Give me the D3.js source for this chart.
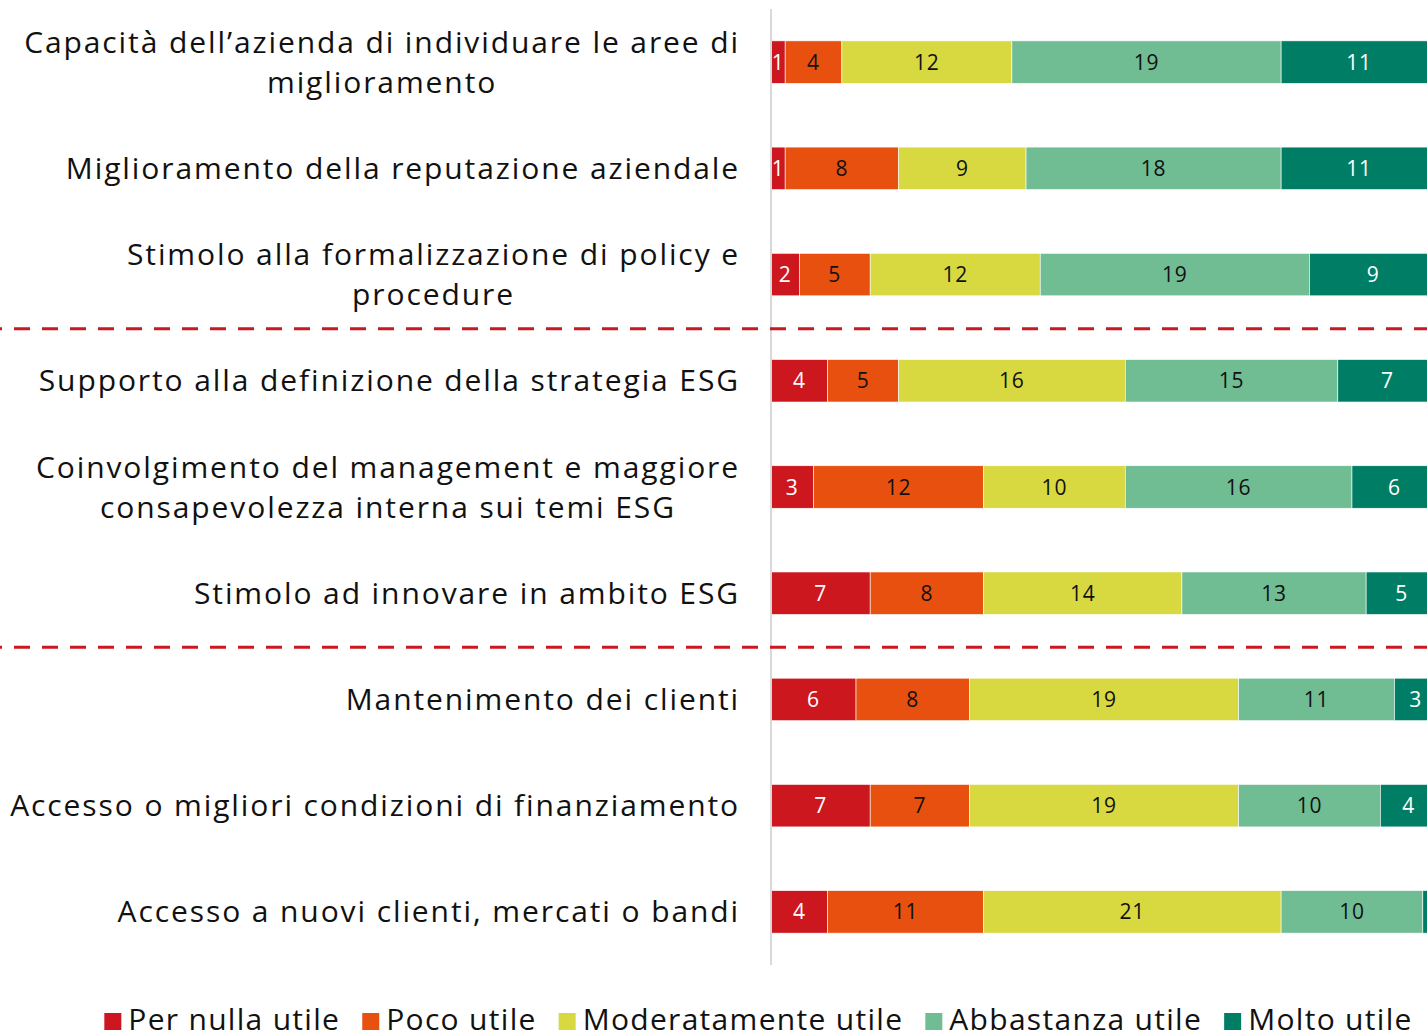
<!DOCTYPE html>
<html>
<head>
<meta charset="utf-8">
<script src="https://cdn.jsdelivr.net/npm/d3@7"></script>
<style>
  body { margin: 0; background: #fff; }
  svg { display: block; }
</style>
</head>
<body>
<div id="chart"></div>
<script>
// categories (top to bottom), lines already split as in the original
const categories = [
  ["Capacità dell’azienda di individuare le aree di", "miglioramento"],
  ["Miglioramento della reputazione aziendale"],
  ["Stimolo alla formalizzazione di policy e", "procedure"],
  ["Supporto alla definizione della strategia ESG"],
  ["Coinvolgimento del management e maggiore", "consapevolezza interna sui temi ESG"],
  ["Stimolo ad innovare in ambito ESG"],
  ["Mantenimento dei clienti"],
  ["Accesso o migliori condizioni di finanziamento"],
  ["Accesso a nuovi clienti, mercati o bandi"]
];

const seriesNames = ["Per nulla utile", "Poco utile", "Moderatamente utile", "Abbastanza utile", "Molto utile"];

const perNulla     = [1, 1, 2, 4, 3, 7, 6, 7, 4];
const poco         = [4, 8, 5, 5, 12, 8, 8, 7, 11];
const moderatamente = [12, 9, 12, 16, 10, 14, 19, 19, 21];
const abbastanza   = [19, 18, 19, 15, 16, 13, 11, 10, 10];
const molto        = [11, 11, 9, 7, 6, 5, 3, 4, 1];

// dashed separators come after these row indexes
const groupBreaks = [2, 5];

const colors = ["#cc171f", "#e8500f", "#d8d940", "#70bc93", "#007e65"];
const labelColors = ["#fff", "#111", "#111", "#111", "#fff"];
const fontFamily = "'Open Sans', 'Lato', sans-serif";

const W = 1427, H = 1033;
const x0 = 771;

const svg = d3.select("#chart").append("svg")
  .attr("width", W)
  .attr("height", H);

const rows = categories.map((c, i) => ({
  idx: i,
  lines: c,
  values: [perNulla[i], poco[i], moderatamente[i], abbastanza[i], molto[i]]
}));

const total = d3.max(rows, r => d3.sum(r.values));

// the original chart runs past the right edge of the picture
const x = d3.scaleLinear()
  .domain([0, total])
  .range([x0, x0 + total * 14.17]);

const y = d3.scaleBand()
  .domain(rows.map(r => r.idx))
  .range([9, 965])
  .paddingInner(0.6)
  .paddingOuter(0.3);

// stack
const stackData = rows.map(r => {
  const o = { idx: r.idx };
  seriesNames.forEach((s, k) => o[s] = r.values[k]);
  return o;
});
const stacked = d3.stack().keys(seriesNames)(stackData);

const g = svg.append("g");

const layer = g.selectAll(".layer")
  .data(stacked)
  .enter().append("g")
  .attr("class", "layer");

layer.selectAll("rect")
  .data((d, k) => d.map(p => ({ p: p, k: k })))
  .enter().append("rect")
  .attr("x", d => x(d.p[0]))
  .attr("y", d => y(d.p.data.idx))
  .attr("width", d => x(d.p[1]) - x(d.p[0]))
  .attr("height", y.bandwidth())
  .attr("fill", d => colors[d.k])
  .attr("stroke", "#fff")
  .attr("stroke-width", 0.6);

layer.selectAll("text")
  .data((d, k) => d.map(p => ({ p: p, k: k })).filter(d => d.p[1] - d.p[0] > 0 && x((d.p[0] + d.p[1]) / 2) < W - 4))
  .enter().append("text")
  .attr("x", d => x((d.p[0] + d.p[1]) / 2))
  .attr("y", d => y(d.p.data.idx) + y.bandwidth() / 2)
  .attr("dy", "0.36em")
  .attr("text-anchor", "middle")
  .attr("font-family", fontFamily)
  .attr("font-size", 21)
  .attr("letter-spacing", 0.8)
  .attr("fill", d => labelColors[d.k])
  .text(d => d.p[1] - d.p[0]);

// vertical axis line
svg.append("line")
  .attr("x1", x(0)).attr("x2", x(0))
  .attr("y1", 9).attr("y2", 965)
  .attr("stroke", "#d9d9d9")
  .attr("stroke-width", 2);

// dashed separators
groupBreaks.forEach(b => {
  const yy = (y(b) + y.bandwidth() + y(b + 1)) / 2 + 1;
  svg.append("line")
    .attr("x1", 0).attr("x2", W)
    .attr("y1", yy).attr("y2", yy)
    .attr("stroke", "#cc171f")
    .attr("stroke-width", 3)
    .attr("stroke-dasharray", "16,12")
    .attr("stroke-dashoffset", 14);
});

// category labels: block right-aligned, lines centred within the block
const labelRight = 740;
const lineH = 40;
rows.forEach(r => {
  const t = svg.append("text")
    .attr("font-family", fontFamily)
    .attr("font-size", 30)
    .attr("letter-spacing", 1.9)
    .attr("fill", "#111")
    .attr("text-anchor", "middle");
  const n = r.lines.length;
  const cy = y(r.idx) + y.bandwidth() / 2;
  const spans = r.lines.map((l, j) => t.append("tspan")
    .attr("y", cy + (j - (n - 1) / 2) * lineH)
    .attr("dy", "0.35em")
    .text(l));
  const wMax = d3.max(spans, s => s.node().getComputedTextLength());
  spans.forEach(s => s.attr("x", labelRight - wMax / 2));
});

// legend
const legend = svg.append("g");
const items = legend.selectAll("g")
  .data(seriesNames)
  .enter().append("g");
items.append("rect")
  .attr("width", 17).attr("height", 17)
  .attr("y", -17)
  .attr("fill", (d, i) => colors[i]);
items.append("text")
  .attr("x", 24)
  .attr("font-family", fontFamily)
  .attr("font-size", 30)
  .attr("letter-spacing", 1.3)
  .attr("fill", "#111")
  .text(d => d);
let cx = 0;
items.each(function () {
  const w = this.getBBox().width;
  d3.select(this).attr("transform", `translate(${cx},0)`);
  cx += w + 22;
});
const legW = cx - 22;
legend.attr("transform", `translate(${(97 + 1420) / 2 - legW / 2},1030)`);
</script>
</body>
</html>
